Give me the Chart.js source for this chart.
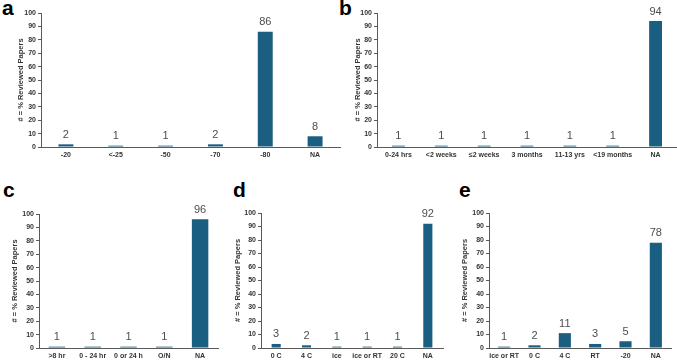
<!DOCTYPE html>
<html>
<head>
<meta charset="utf-8">
<script src="https://cdn.jsdelivr.net/npm/chart.js@4/dist/chart.umd.min.js"></script>
<style>
  body { margin: 0; background: #fff; }
  #wrap { position: relative; width: 677px; height: 360px; overflow: hidden; }
  canvas { position: absolute; }
  .tag { position: absolute; font: bold 21px Arial, "Liberation Sans", sans-serif; line-height: 21px; color: #000; }
</style>
</head>
<body>
<div id="wrap">
  <div class="tag" style="left:2px;top:-3px">a</div>
  <div class="tag" style="left:339px;top:-3px">b</div>
  <div class="tag" style="left:3px;top:179px">c</div>
  <div class="tag" style="left:233px;top:179px">d</div>
  <div class="tag" style="left:459px;top:179px">e</div>
  <canvas id="ca" style="left:0;top:0" width="342" height="162"></canvas>
  <canvas id="cb" style="left:338px;top:0" width="339" height="162"></canvas>
  <canvas id="cc" style="left:0;top:165px" width="222" height="195"></canvas>
  <canvas id="cd" style="left:225px;top:165px" width="222" height="195"></canvas>
  <canvas id="ce" style="left:450px;top:165px" width="227" height="195"></canvas>
</div>
<script>
// panel data
const aLabels = ["-20", "<-25", "-50", "-70", "-80", "NA"];
const aValues = [2, 1, 1, 2, 86, 8];

const bLabels = ["0-24 hrs", "<2 weeks", "\u22642 weeks", "3 months", "11-13 yrs", "<19 months", "NA"];
const bValues = [1, 1, 1, 1, 1, 1, 94];

const cLabels = [">8 hr", "0 - 24 hr", "0 or 24 h", "O/N", "NA"];
const cValues = [1, 1, 1, 1, 96];

const dLabels = ["0 C", "4 C", "ice", "ice or RT", "20 C", "NA"];
const dValues = [3, 2, 1, 1, 1, 92];

const eLabels = ["ice or RT", "0 C", "4 C", "RT", "-20", "NA"];
const eValues = [1, 2, 11, 3, 5, 78];

const yTitle = "# = % Reviewed Papers";
const barColor = "#1a5e82";
const axisColor = "#595959";
const FONT = "Arial, 'Liberation Sans', sans-serif";

// draws the number above each bar
const valueLabels = {
  id: "valueLabels",
  afterDatasetsDraw(chart) {
    const ctx = chart.ctx;
    const meta = chart.getDatasetMeta(0);
    const vals = chart.data.datasets[0].data;
    ctx.save();
    ctx.font = "11px " + FONT;
    ctx.fillStyle = "#4d4d4d";
    ctx.textAlign = "center";
    ctx.textBaseline = "bottom";
    meta.data.forEach((bar, i) => {
      ctx.fillText(vals[i], bar.x, bar.y - 4);
    });
    ctx.restore();
  }
};

function makePanel(id, labels, values, opt) {
  new Chart(document.getElementById(id), {
    type: "bar",
    data: {
      labels: labels,
      datasets: [{
        data: values,
        backgroundColor: barColor,
        barPercentage: opt.bar,
        categoryPercentage: 1
      }]
    },
    options: {
      responsive: false,
      animation: false,
      events: [],
      layout: { padding: { top: opt.top, right: opt.right, left: 0, bottom: 0 } },
      plugins: { legend: { display: false }, tooltip: { enabled: false } },
      scales: {
        x: {
          grid: { display: false, drawTicks: false },
          border: { color: axisColor, width: 1 },
          ticks: {
            autoSkip: false, maxRotation: 0, padding: 4,
            color: "#333", font: { family: FONT, size: 7, weight: "bold" }
          },
          afterFit(s) { s.height = opt.xh; }
        },
        y: {
          min: 0, max: 100,
          grid: { drawOnChartArea: false, tickLength: 3, color: axisColor },
          border: { color: axisColor, width: 1 },
          ticks: {
            stepSize: 10, padding: 2,
            color: "#333", font: { family: FONT, size: 7, weight: "bold" }
          },
          title: {
            display: true, text: yTitle, padding: { top: opt.tx, bottom: 0 },
            color: "#333", font: { family: FONT, size: 7.5, weight: "bold" }
          },
          afterFit(s) { s.width = opt.yw; }
        }
      }
    },
    plugins: [valueLabels]
  });
}

makePanel("ca", aLabels, aValues, { bar: 0.3, top: 13, right: 2, xh: 15, yw: 41, tx: 16 });
makePanel("cb", bLabels, bValues, { bar: 0.3, top: 13, right: 0, xh: 15, yw: 39, tx: 15 });
makePanel("cc", cLabels, cValues, { bar: 0.46, top: 49, right: 4, xh: 12, yw: 39, tx: 10.5 });
makePanel("cd", dLabels, dValues, { bar: 0.3, top: 48, right: 4, xh: 12, yw: 36, tx: 8.5 });
makePanel("ce", eLabels, eValues, { bar: 0.4, top: 48, right: 6, xh: 12, yw: 39, tx: 10.5 });
</script>
</body>
</html>
